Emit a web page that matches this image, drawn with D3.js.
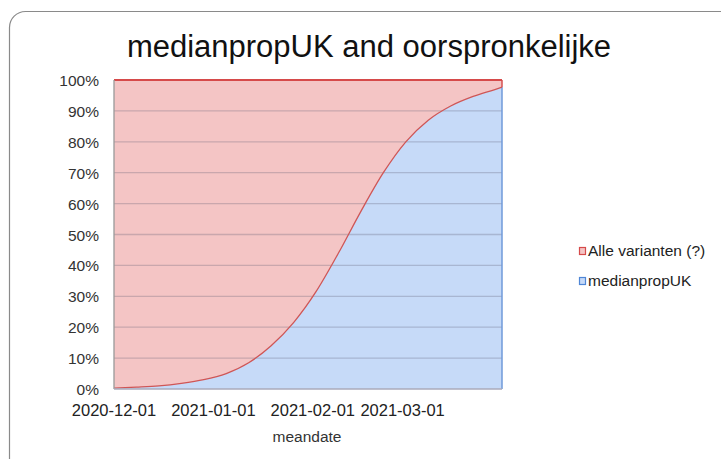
<!DOCTYPE html>
<html>
<head>
<meta charset="utf-8">
<script src="https://cdn.jsdelivr.net/npm/d3@7"></script>
<style>
  body { margin: 0; background: #fff; }
  text { font-family: "Liberation Sans", Arial, sans-serif; }
</style>
</head>
<body>
<script>
// medianpropUK share (percent), weekly
let dates = ["2020-12-01", "2020-12-08", "2020-12-15", "2020-12-22", "2020-12-29",
             "2021-01-05", "2021-01-12", "2021-01-19", "2021-01-26", "2021-02-02",
             "2021-02-09", "2021-02-16", "2021-02-23", "2021-03-02", "2021-03-09",
             "2021-03-16", "2021-03-23", "2021-03-30", "2021-04-01"];
let medianpropUK = [0.3, 0.6, 1.0, 1.8, 3.0,
                    5.0, 8.5, 14, 21.5, 31.5,
                    44, 57.5, 70, 80, 87,
                    91.6, 94.7, 97, 97.7];
let alleVarianten = dates.map(() => 100);
let yTicks = [0, 10, 20, 30, 40, 50, 60, 70, 80, 90, 100];
let xTicks = ["2020-12-01", "2021-01-01", "2021-02-01", "2021-03-01"];
let seriesNames = ["Alle varianten (?)", "medianpropUK"];

let parse = d3.timeParse("%Y-%m-%d");
let data = dates.map((d, i) => ({date: parse(d), uk: medianpropUK[i], all: alleVarianten[i]}));

// svg
let svg = d3.select("body").append("svg")
    .attr("width", 721)
    .attr("height", 459);

// outer frame with rounded corner
svg.append("rect")
    .attr("x", 9.5).attr("y", 11.5)
    .attr("width", 740).attr("height", 480)
    .attr("rx", 16)
    .style("fill", "none")
    .style("stroke", "#8a8a8a")
    .style("stroke-width", 1.2);

let x = d3.scaleTime()
    .domain([parse("2020-12-01"), parse("2021-04-01")])
    .range([114, 502]);
let y = d3.scaleLinear()
    .domain([0, 100])
    .range([389, 80]);

// red area (all variants)
svg.append("path")
    .datum(data)
    .attr("d", d3.area().x(d => x(d.date)).y0(y(0)).y1(d => y(d.all)))
    .style("fill", "#f4c5c5");

// blue area (UK share)
svg.append("path")
    .datum(data)
    .attr("d", d3.area().curve(d3.curveMonotoneX).x(d => x(d.date)).y0(y(0)).y1(d => y(d.uk)))
    .style("fill", "#c6daf8");

// gridlines
svg.append("g")
    .selectAll("line")
    .data(yTicks.filter(t => t > 0 && t < 100))
    .enter()
    .append("line")
        .attr("x1", 114).attr("x2", 502)
        .attr("y1", d => y(d)).attr("y2", d => y(d))
        .style("stroke", "rgba(90, 90, 110, 0.28)")
        .style("stroke-width", 1.3);

// blue right edge
let last = data[data.length - 1];
svg.append("line")
    .attr("x1", x(last.date)).attr("x2", x(last.date))
    .attr("y1", y(0)).attr("y2", y(last.uk))
    .style("stroke", "#6f9ada")
    .style("stroke-width", 1.5);

// red outline: boundary curve, right edge and top
svg.append("path")
    .datum(data)
    .attr("d", d3.line().curve(d3.curveMonotoneX).x(d => x(d.date)).y(d => y(d.uk)))
    .style("fill", "none")
    .style("stroke", "#cf5656")
    .style("stroke-width", 1.3);
svg.append("line")
    .attr("x1", x(last.date)).attr("x2", x(last.date))
    .attr("y1", y(last.uk)).attr("y2", y(100))
    .style("stroke", "#d65050")
    .style("stroke-width", 1.5);
svg.append("path")
    .datum(data)
    .attr("d", d3.line().x(d => x(d.date)).y(d => y(d.all)))
    .style("fill", "none")
    .style("stroke", "#d64a4a")
    .style("stroke-width", 1.8);

// axes lines
svg.append("line")
    .attr("x1", 114).attr("x2", 114).attr("y1", y(100)).attr("y2", y(0))
    .style("stroke", "#999").style("stroke-width", 1.3);
svg.append("line")
    .attr("x1", 114).attr("x2", 502).attr("y1", y(0)).attr("y2", y(0))
    .style("stroke", "#aab").style("stroke-width", 1.3);

// y labels
svg.append("g")
    .selectAll("text")
    .data(yTicks)
    .enter()
    .append("text")
        .text(d => d + "%")
        .attr("x", 99)
        .attr("y", d => y(d) + 6)
        .attr("text-anchor", "end")
        .style("font-size", "15.5px")
        .style("fill", "#333");

// x labels
svg.append("g")
    .selectAll("text")
    .data(xTicks)
    .enter()
    .append("text")
        .text(d => d)
        .attr("x", d => x(parse(d)))
        .attr("y", 416)
        .attr("text-anchor", "middle")
        .style("font-size", "16.5px")
        .style("fill", "#222");

// axis title
svg.append("text")
    .text("meandate")
    .attr("x", 307).attr("y", 442)
    .attr("text-anchor", "middle")
    .style("font-size", "15.5px")
    .style("fill", "#333");

// chart title
svg.append("text")
    .text("medianpropUK and oorspronkelijke")
    .attr("x", 369).attr("y", 57)
    .attr("text-anchor", "middle")
    .style("font-size", "31px")
    .style("fill", "#111");

// legend
let legendColors = [["#f4c5c5", "#d64a4a"], ["#c6daf8", "#4f86d6"]];
let legend = svg.append("g")
    .selectAll("g")
    .data(seriesNames)
    .enter()
    .append("g")
        .attr("transform", (d, i) => "translate(579," + (250 + i * 30) + ")");
legend.append("rect")
    .attr("x", 0.5).attr("y", -2.5)
    .attr("width", 6).attr("height", 7)
    .style("fill", (d, i) => legendColors[i][0])
    .style("stroke", (d, i) => legendColors[i][1])
    .style("stroke-width", 1.2);
legend.append("text")
    .text(d => d)
    .attr("x", 9)
    .attr("y", 6)
    .style("font-size", "15.5px")
    .style("fill", "#222");
</script>
</body>
</html>
